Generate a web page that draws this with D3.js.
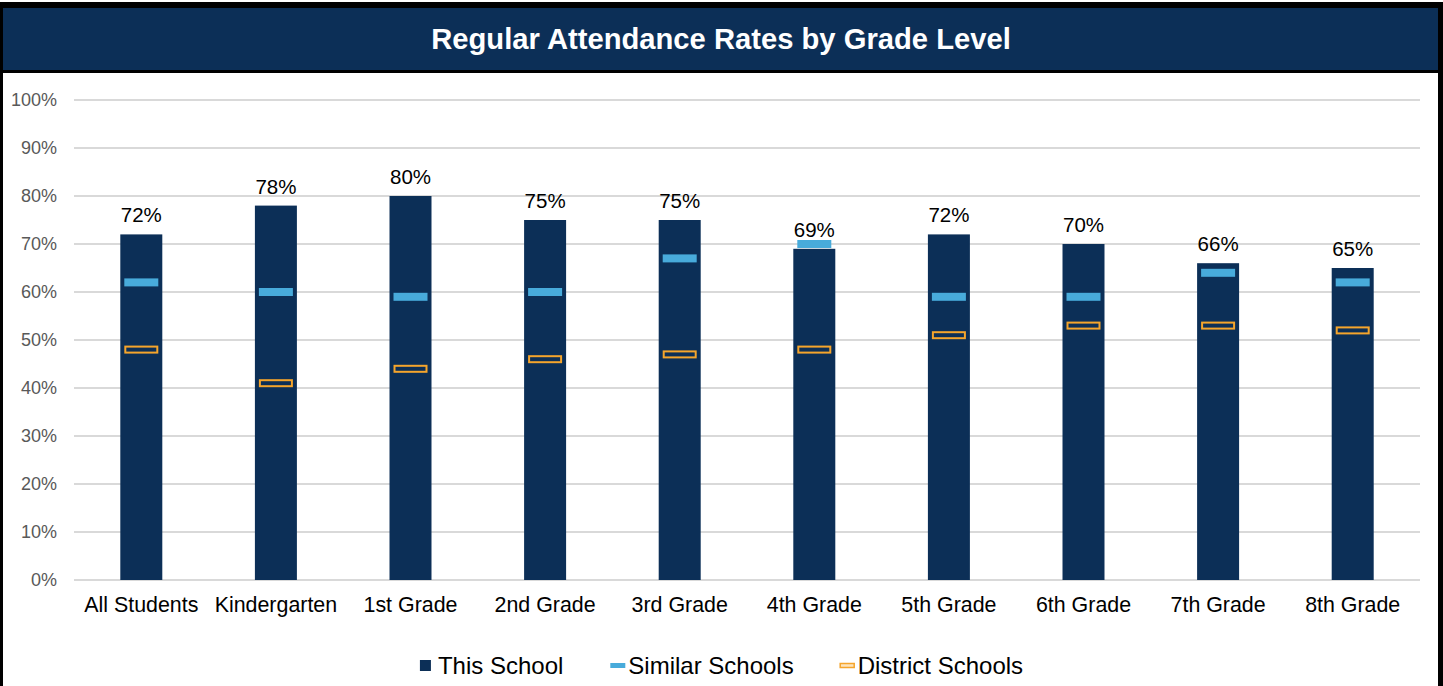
<!DOCTYPE html>
<html>
<head>
<meta charset="utf-8">
<script src="https://cdn.jsdelivr.net/npm/d3@7"></script>
<style>
  body { margin: 0; background: #fff; }
  svg { display: block; font-family: "Liberation Sans", Arial, sans-serif; }
</style>
</head>
<body>
<div id="chart"></div>
<script>
// Data
const categories = ['All Students', 'Kindergarten', '1st Grade', '2nd Grade', '3rd Grade',
    '4th Grade', '5th Grade', '6th Grade', '7th Grade', '8th Grade'];
const thisSchool = [72, 78, 80, 75, 75, 69, 72, 70, 66, 65];
const similarSchools = [62, 60, 59, 60, 67, 70, 59, 59, 64, 62];
const districtSchools = [48, 41, 44, 46, 47, 48, 51, 53, 53, 52];
const yTicks = [0, 10, 20, 30, 40, 50, 60, 70, 80, 90, 100];
const seriesNames = ['This School', 'Similar Schools', 'District Schools'];

const W = 1443, H = 686;
const navy = '#0c2f57', blue = '#48abdb', orange = '#f5a52c';

const svg = d3.select('#chart').append('svg')
    .attr('width', W)
    .attr('height', H);

// Frame and title band
svg.append('rect').attr('x', 0).attr('y', 2).attr('width', W).attr('height', H).attr('fill', '#000');
svg.append('rect').attr('x', 3).attr('y', 73).attr('width', 1435).attr('height', H).attr('fill', '#fff');
svg.append('rect').attr('x', 3).attr('y', 8).attr('width', 1435).attr('height', 62).attr('fill', navy);

svg.append('text')
    .attr('x', 721)
    .attr('y', 49)
    .attr('text-anchor', 'middle')
    .attr('fill', '#fff')
    .attr('font-weight', 'bold')
    .attr('font-size', 29.2)
    .text('Regular Attendance Rates by Grade Level');

// Scales
const x = d3.scaleBand()
    .domain(categories)
    .range([74, 1420])
    .paddingInner(0.688)
    .paddingOuter(0.344);

const y = d3.scaleLinear()
    .domain([0, 100])
    .range([580, 100]);

// Grid
svg.append('g')
    .selectAll('line')
    .data(yTicks)
    .join('line')
    .attr('x1', 74)
    .attr('x2', 1420)
    .attr('y1', d => y(d))
    .attr('y2', d => y(d))
    .attr('stroke', '#d9d9d9')
    .attr('stroke-width', 2);

// Y axis labels
const yAxis = svg.append('g')
    .attr('transform', 'translate(74,0)')
    .call(d3.axisLeft(y).tickValues(yTicks).tickSize(0).tickPadding(17).tickFormat(d => d + '%'));
yAxis.select('.domain').remove();
yAxis.selectAll('text')
    .attr('font-size', 18)
    .attr('font-family', '"Liberation Sans", Arial, sans-serif')
    .attr('fill', '#595959');

// X axis labels
const xAxis = svg.append('g')
    .attr('transform', 'translate(0,580)')
    .call(d3.axisBottom(x).tickSize(0).tickPadding(17));
xAxis.select('.domain').remove();
xAxis.selectAll('text')
    .attr('font-size', 21.4)
    .attr('font-family', '"Liberation Sans", Arial, sans-serif')
    .attr('fill', '#000');

// Bars
svg.append('g')
    .selectAll('rect')
    .data(thisSchool)
    .join('rect')
    .attr('x', (d, i) => x(categories[i]))
    .attr('y', d => y(d))
    .attr('width', x.bandwidth())
    .attr('height', d => y(0) - y(d))
    .attr('fill', navy);

// Bar value labels
svg.append('g')
    .selectAll('text')
    .data(thisSchool)
    .join('text')
    .attr('x', (d, i) => x(categories[i]) + x.bandwidth() / 2)
    .attr('y', d => y(d) - 12)
    .attr('text-anchor', 'middle')
    .attr('font-size', 20.5)
    .attr('fill', '#000')
    .text(d => d + '%');

// Similar schools markers
const mw = 34;
svg.append('g')
    .selectAll('rect')
    .data(similarSchools)
    .join('rect')
    .attr('x', (d, i) => x(categories[i]) + x.bandwidth() / 2 - mw / 2)
    .attr('y', d => y(d) - 4)
    .attr('width', mw)
    .attr('height', 8)
    .attr('fill', blue);

// District schools markers
svg.append('g')
    .selectAll('rect')
    .data(districtSchools)
    .join('rect')
    .attr('x', (d, i) => x(categories[i]) + x.bandwidth() / 2 - (mw - 2) / 2)
    .attr('y', d => y(d) - 3)
    .attr('width', mw - 2)
    .attr('height', 6)
    .attr('fill', 'none')
    .attr('stroke', orange)
    .attr('stroke-width', 2);

// Legend
const legend = svg.append('g');
const items = legend.selectAll('g')
    .data(seriesNames)
    .join('g');

items.append('text')
    .attr('x', (d, i) => i === 0 ? 18 : 19)
    .attr('y', 674)
    .attr('font-size', 24)
    .attr('fill', '#000')
    .text(d => d);

items.each(function(d, i) {
    const g = d3.select(this);
    if (i === 0) {
        g.append('rect').attr('x', 0).attr('y', 660).attr('width', 11).attr('height', 11).attr('fill', navy);
    } else if (i === 1) {
        g.append('rect').attr('x', 1).attr('y', 663).attr('width', 15).attr('height', 5).attr('fill', blue);
    } else {
        g.append('rect').attr('x', 1.5).attr('y', 663.5).attr('width', 14).attr('height', 4)
            .attr('fill', '#fde4bd').attr('stroke', orange).attr('stroke-width', 1.5);
    }
});

// Lay legend items out side by side and centre them
let offset = 0;
const gap = 45;
const widths = [];
items.each(function() {
    const w = this.querySelector('text').getComputedTextLength() + 19;
    widths.push(w);
});
const total = d3.sum(widths) + gap * (widths.length - 1);
let start = W / 2 - total / 2;
items.attr('transform', (d, i) => {
    const tx = start + offset;
    offset += widths[i] + gap;
    return `translate(${tx},0)`;
});
</script>
</body>
</html>
